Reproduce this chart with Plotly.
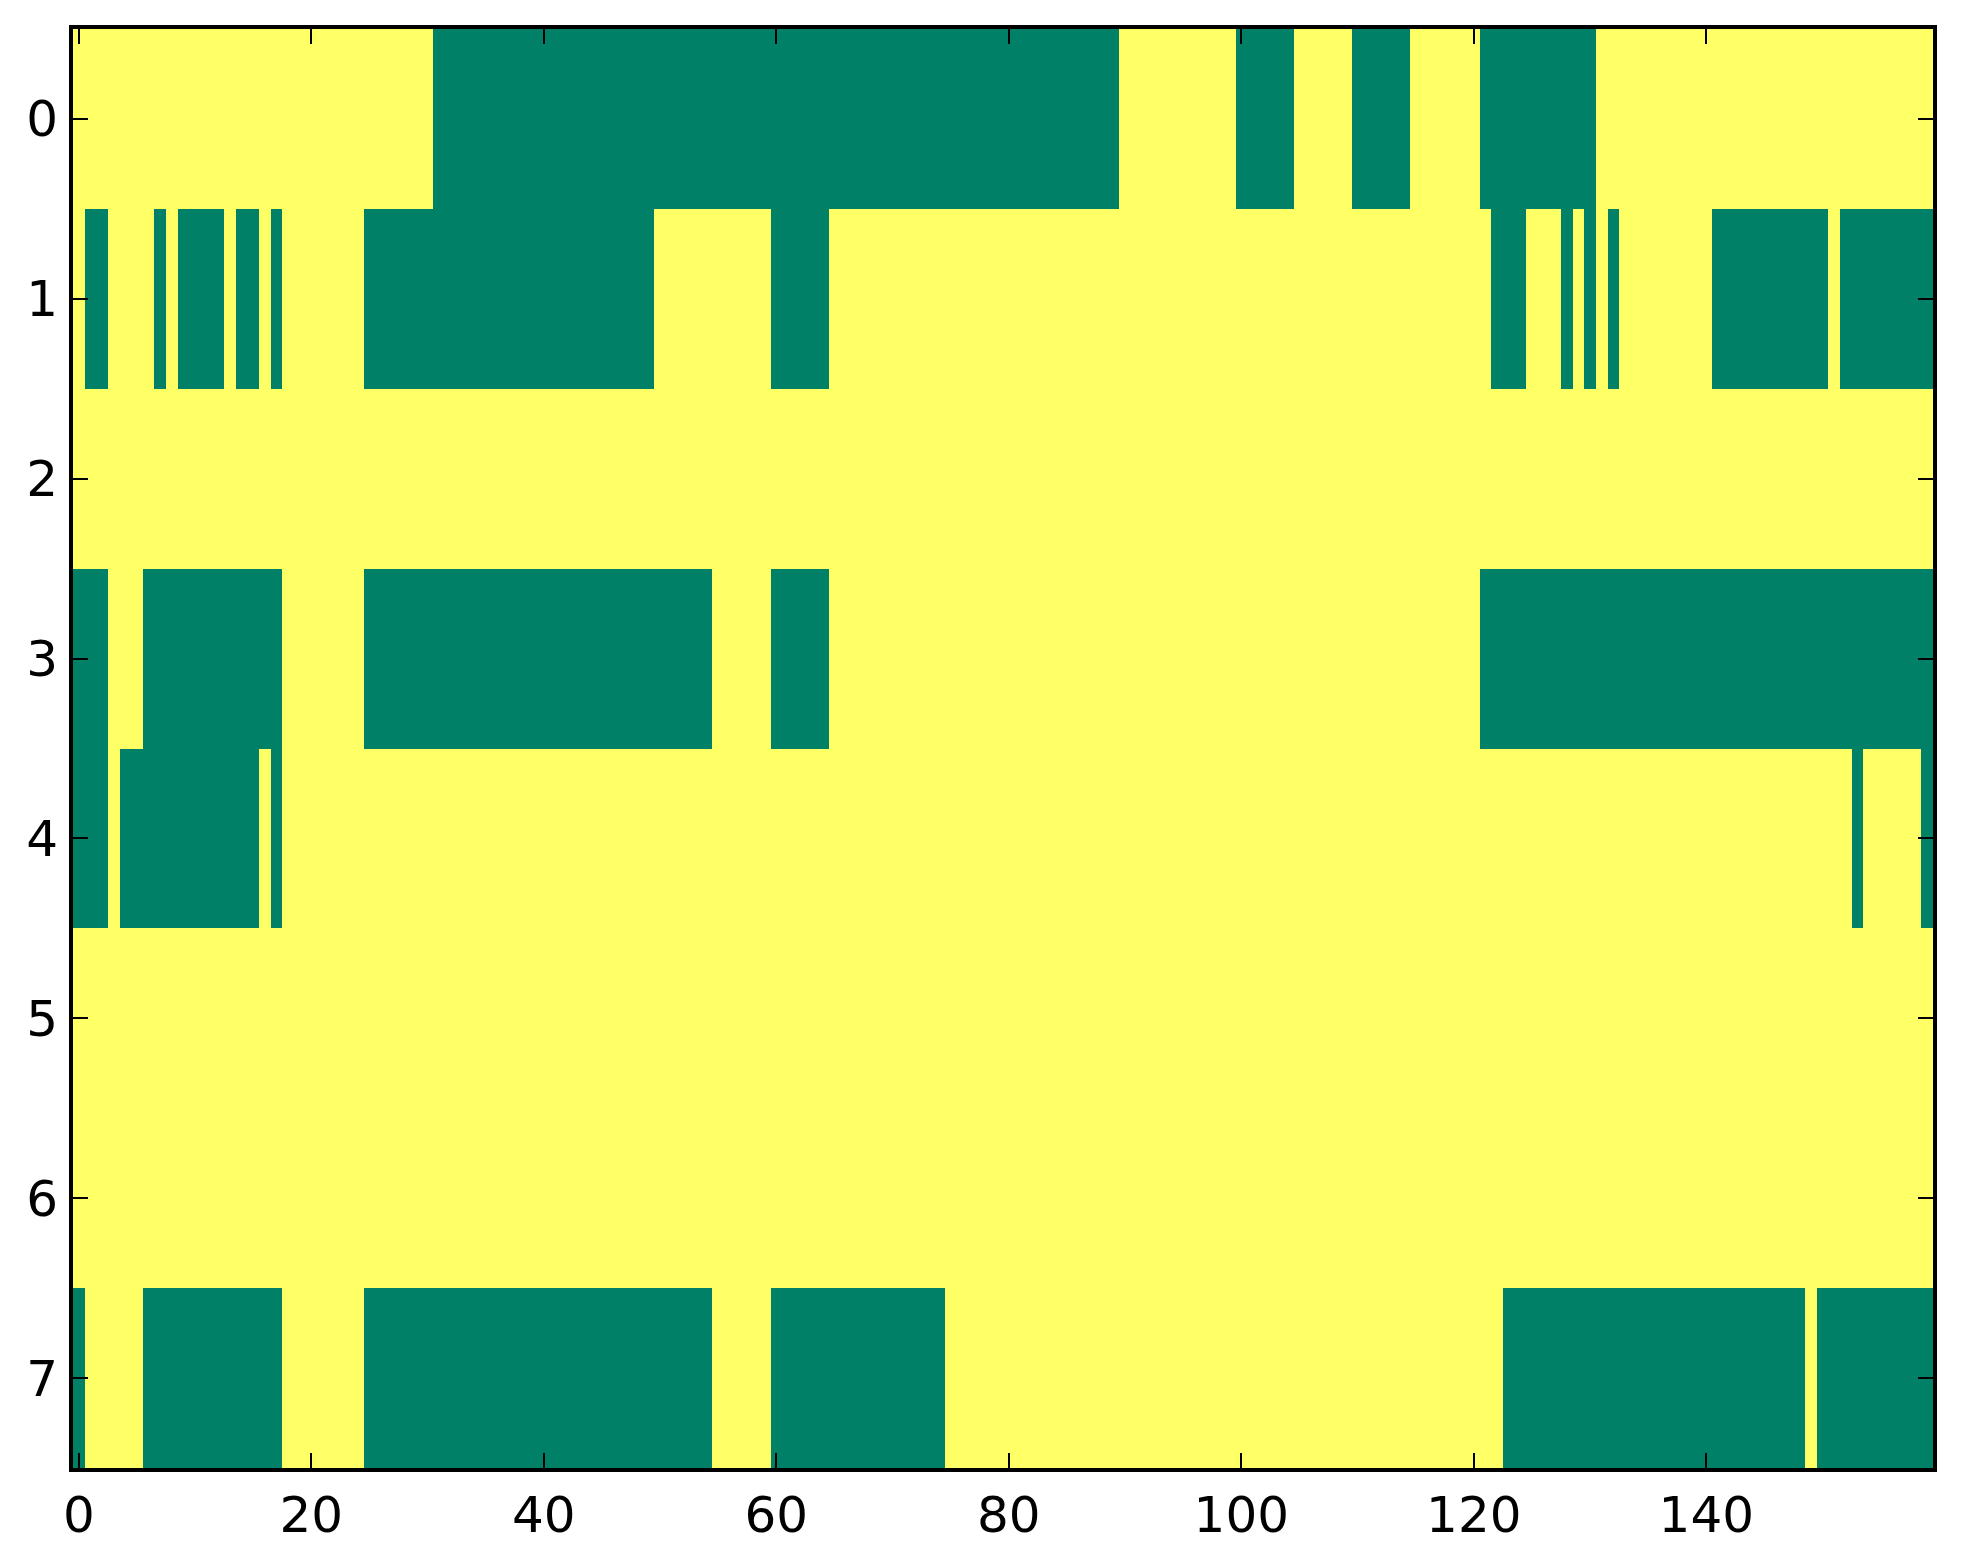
import plotly.graph_objects as go

# green cells (value 0) per row, as inclusive column runs; everything else is yellow (value 1)
n_cols = 160
row0_green = [(31, 89), (100, 104), (110, 114), (121, 130)]
row1_green = [(1, 2), (7, 7), (9, 12), (14, 15), (17, 17), (25, 49), (60, 64),
              (122, 124), (128, 128), (130, 130), (132, 132), (141, 150), (152, 159)]
row2_green = []
row3_green = [(0, 2), (6, 17), (25, 54), (60, 64), (121, 159)]
row4_green = [(0, 2), (4, 15), (17, 17), (153, 153), (159, 159)]
row5_green = []
row6_green = []
row7_green = [(0, 0), (6, 17), (25, 54), (60, 74), (123, 148), (150, 159)]

x_ticks = [0, 20, 40, 60, 80, 100, 120, 140]
y_ticks = [0, 1, 2, 3, 4, 5, 6, 7]

rows = [row0_green, row1_green, row2_green, row3_green,
        row4_green, row5_green, row6_green, row7_green]

z = []
for runs in rows:
    r = [1] * n_cols
    for a, b in runs:
        for c in range(a, b + 1):
            r[c] = 0
    z.append(r)

fig = go.Figure(go.Heatmap(
    z=z,
    x=list(range(n_cols)),
    y=list(range(len(rows))),
    colorscale=[[0, "#008066"], [1, "#ffff66"]],
    zmin=0, zmax=1,
    showscale=False,
))

axis_style = dict(
    showline=True, linewidth=4, linecolor="black", mirror="allticks",
    ticks="inside", ticklen=15, tickwidth=2, tickcolor="black",
    showgrid=False, zeroline=False,
    tickfont=dict(family="DejaVu Sans", size=50, color="black"),
)

fig.update_xaxes(range=[-0.5, n_cols - 0.5], tickvals=x_ticks, ticklabelstandoff=0, **axis_style)
fig.update_yaxes(range=[len(rows) - 0.5, -0.5], tickvals=y_ticks, ticklabelstandoff=1, **axis_style)

# page body has an 8px margin, so the figure is 8px smaller and margins shifted
fig.update_layout(
    width=1955, height=1556,
    margin=dict(l=65, r=30, t=21, b=96),
    paper_bgcolor="white", plot_bgcolor="white",
)

fig.write_html("out.html")
